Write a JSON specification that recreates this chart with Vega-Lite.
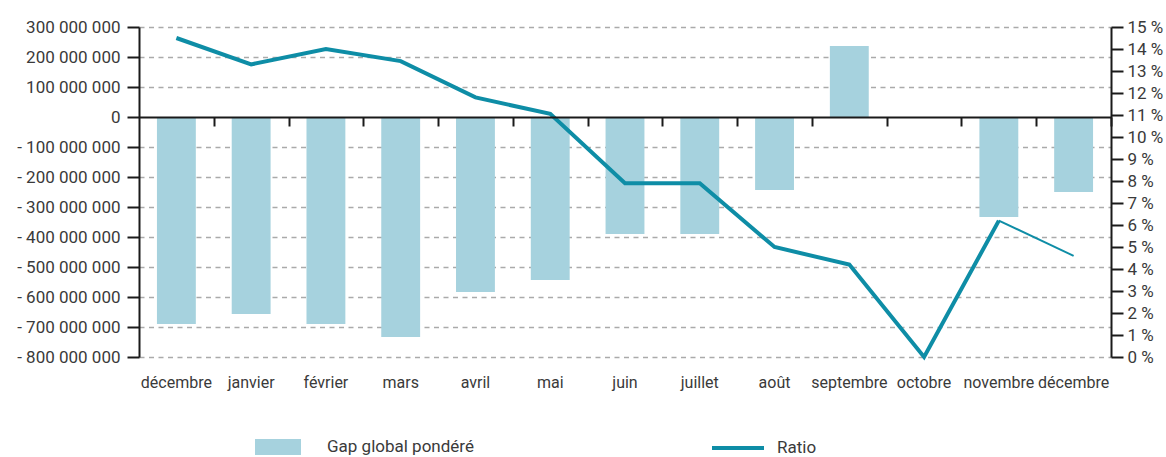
{
  "$schema": "https://vega.github.io/schema/vega-lite/v6.json",
  "width": 972,
  "height": 330,
  "autosize": {"type": "none"},
  "padding": {"left": 139, "top": 27, "right": 55, "bottom": 100},
  "background": "white",
  "config": {
    "view": {"stroke": null},
    "font": "Roboto",
    "locale": {"number": {"decimal": ",", "thousands": " ", "grouping": [3], "currency": ["", " €"]}},
    "axis": {"labelFont": "Roboto", "labelColor": "#3a3a3a"},
    "legend": {"labelFont": "Roboto", "labelColor": "#3a3a3a"}
  },
  "data": {
    "values": [
      {"k": 0, "mois": "décembre", "gap": -690000000, "ratio": 14.5},
      {"k": 1, "mois": "janvier", "gap": -657000000, "ratio": 13.3},
      {"k": 2, "mois": "février", "gap": -690000000, "ratio": 14.0},
      {"k": 3, "mois": "mars", "gap": -733000000, "ratio": 13.45},
      {"k": 4, "mois": "avril", "gap": -583000000, "ratio": 11.8},
      {"k": 5, "mois": "mai", "gap": -543000000, "ratio": 11.05},
      {"k": 6, "mois": "juin", "gap": -390000000, "ratio": 7.9},
      {"k": 7, "mois": "juillet", "gap": -390000000, "ratio": 7.9},
      {"k": 8, "mois": "août", "gap": -243000000, "ratio": 5.0},
      {"k": 9, "mois": "septembre", "gap": 237000000, "ratio": 4.2},
      {"k": 10, "mois": "octobre", "gap": -2000000, "ratio": 0},
      {"k": 11, "mois": "novembre", "gap": -333000000, "ratio": 6.2},
      {"k": 12, "mois": "décembre", "gap": -250000000, "ratio": 4.6}
    ]
  },
  "layer": [
    {
      "mark": {"type": "bar"},
      "encoding": {
        "x": {
          "field": "k", "type": "ordinal", "sort": null,
          "scale": {"paddingInner": 0.48, "paddingOuter": 0.24},
          "axis": {
            "orient": "bottom", "offset": -240, "title": null,
            "labels": false, "grid": false,
            "domain": true, "domainColor": "#1a1a1a", "domainWidth": 2,
            "ticks": true, "tickBand": "center", "tickOffset": 37.4, "tickSize": 9, "tickWidth": 2, "tickColor": "#1a1a1a",
            "zindex": 1
          }
        },
        "y": {
          "field": "gap", "type": "quantitative",
          "scale": {"domain": [-800000000, 300000000], "nice": false, "zero": false},
          "axis": {
            "orient": "left", "title": null,
            "values": [-800000000, -700000000, -600000000, -500000000, -400000000, -300000000, -200000000, -100000000, 0, 100000000, 200000000, 300000000],
            "labelExpr": "(datum.value < 0 ? '- ' : '') + format(abs(datum.value), ',')",
            "labelFontSize": 17, "labelPadding": 7,
            "domain": true, "domainColor": "#1a1a1a", "domainWidth": 2,
            "ticks": true, "tickSize": 12, "tickWidth": 2, "tickColor": "#1a1a1a",
            "grid": true,
            "gridColor": {"condition": {"test": "datum.value === 0", "value": "transparent"}, "value": "#aaaaaa"},
            "gridDash": [5, 4.5], "gridWidth": 1.3
          }
        },
        "fill": {
          "datum": "Gap global pondéré",
          "scale": {"range": ["#A6D2DE"]},
          "legend": {
            "title": null, "orient": "none", "legendX": 116, "legendY": 397,
            "symbolType": "M-1,-0.348H1V0.348H-1Z", "symbolSize": 2116,
            "symbolStrokeWidth": 0, "labelOffset": 26, "labelFontSize": 17
          }
        }
      }
    },
    {
      "encoding": {
        "x": {
          "field": "k", "type": "ordinal", "sort": null,
          "scale": {"paddingInner": 0.48, "paddingOuter": 0.24},
          "axis": {
            "orient": "bottom", "title": null,
            "labelExpr": "['décembre','janvier','février','mars','avril','mai','juin','juillet','août','septembre','octobre','novembre','décembre'][datum.value]",
            "labelAngle": 0, "labelFontSize": 16, "labelPadding": 17,
            "domain": false, "ticks": false, "grid": false
          }
        },
        "y": {
          "field": "ratio", "type": "quantitative",
          "scale": {"domain": [0, 15], "nice": false},
          "axis": {
            "orient": "right", "title": null,
            "values": [0, 1, 2, 3, 4, 5, 6, 7, 8, 9, 10, 11, 12, 13, 14, 15],
            "labelExpr": "datum.value + ' %'",
            "labelFontSize": 17, "labelPadding": 4,
            "domain": true, "domainColor": "#1a1a1a", "domainWidth": 2,
            "ticks": true, "tickSize": 12, "tickWidth": 2, "tickColor": "#1a1a1a",
            "grid": false
          }
        }
      },
      "layer": [
        {
          "transform": [{"filter": "datum.k <= 11"}],
          "mark": {"type": "line", "strokeWidth": 4},
          "encoding": {
            "stroke": {
              "datum": "Ratio",
              "scale": {"range": ["#0E8DA6"]},
              "legend": {
                "title": null, "orient": "none", "legendX": 571, "legendY": 393,
                "symbolType": "stroke", "symbolSize": 2704, "symbolStrokeWidth": 4,
                "labelOffset": 11, "labelFontSize": 17
              }
            }
          }
        },
        {
          "transform": [{"filter": "datum.k >= 11"}],
          "mark": {"type": "line", "strokeWidth": 2},
          "encoding": {
            "stroke": {"datum": "Ratio", "legend": null}
          }
        }
      ]
    }
  ],
  "resolve": {"scale": {"y": "independent"}, "axis": {"x": "independent"}}
}
